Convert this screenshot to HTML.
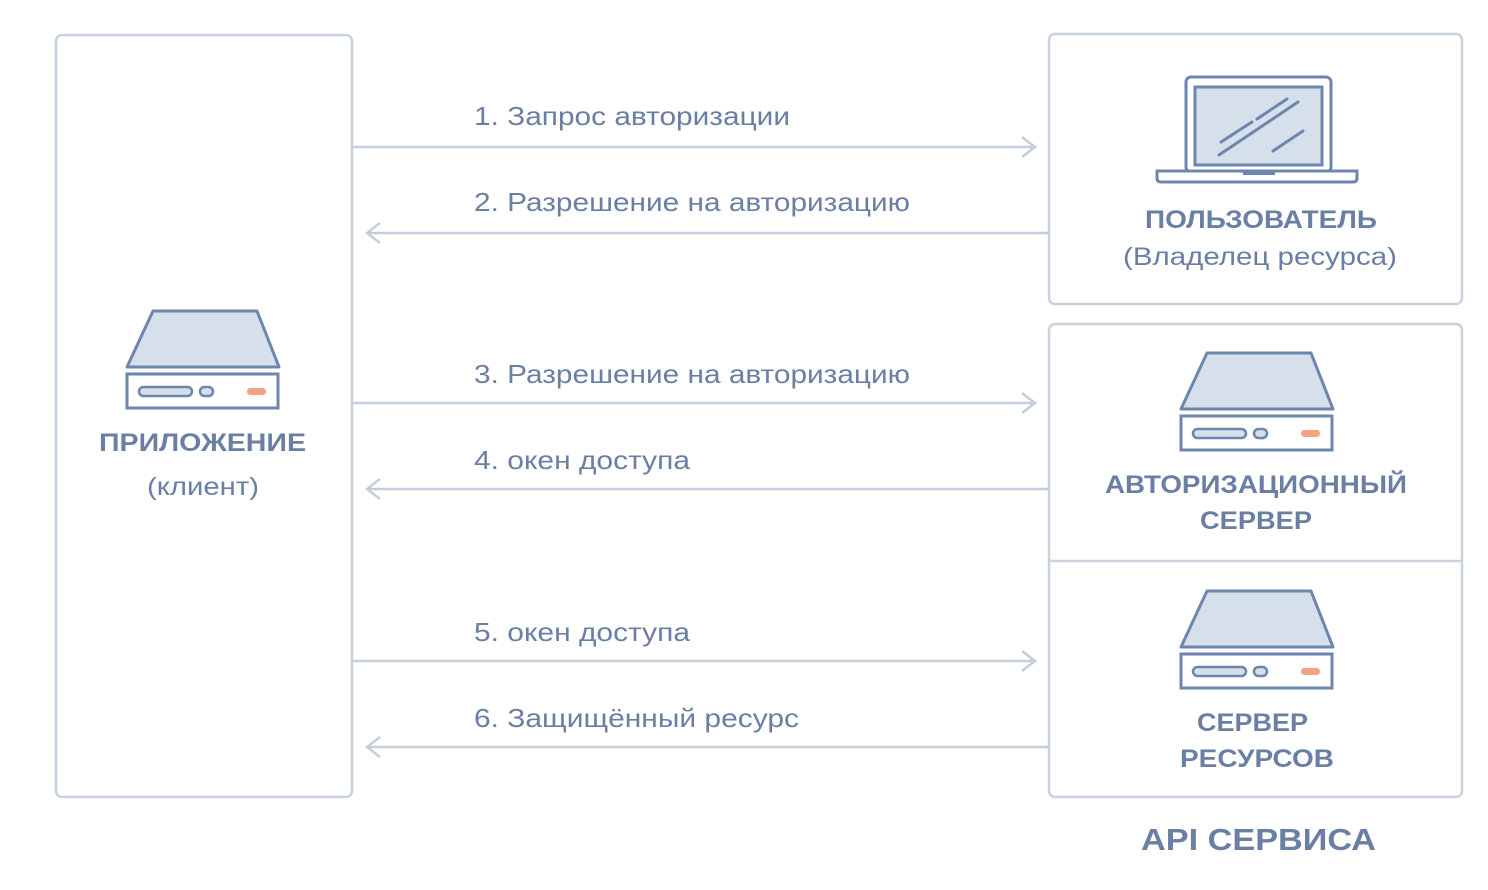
<!DOCTYPE html>
<html><head><meta charset="utf-8"><style>body{margin:0;background:#fff}</style></head>
<body>
<svg width="1488" height="885" viewBox="0 0 1488 885" xmlns="http://www.w3.org/2000/svg" font-family="Liberation Sans, sans-serif">
<defs>
<g id="srv">
<path d="M26 0 H130 L152 56 H0 Z" fill="#d6e0ea" stroke="#6d86ad" stroke-width="3" stroke-linejoin="round"/>
<rect x="0" y="63" width="151" height="34" fill="#fff" stroke="#6d86ad" stroke-width="3"/>
<rect x="12" y="76" width="53" height="9" rx="4.5" fill="#d6e0ea" stroke="#6d86ad" stroke-width="2.5"/>
<rect x="73" y="76" width="13" height="9" rx="4.5" fill="#d6e0ea" stroke="#6d86ad" stroke-width="2.5"/>
<rect x="120" y="77" width="19" height="7" rx="3.5" fill="#f5a183"/>
</g>
</defs>
<g fill="none" stroke="#c8d2de" stroke-width="2.5">
<rect x="56" y="35" width="296" height="762" rx="6"/>
<rect x="1049" y="34" width="413" height="270" rx="6"/>
<rect x="1049" y="324" width="413" height="473" rx="6"/>
<line x1="1049" y1="561" x2="1462" y2="561"/>
</g>
<g stroke="#c3cfdc" stroke-width="2.5" fill="none">
<path d="M352 147H1036M1022 137l13 10-13 10"/>
<path d="M1049 233H367M380 223l-13 10 13 10"/>
<path d="M352 403H1036M1022 393l13 10-13 10"/>
<path d="M1049 489H367M380 479l-13 10 13 10"/>
<path d="M352 661H1036M1022 651l13 10-13 10"/>
<path d="M1049 747H367M380 737l-13 10 13 10"/>
</g>
<g fill="#6b7fa5" font-size="26" lengthAdjust="spacingAndGlyphs">
<text x="474" y="125" textLength="316" lengthAdjust="spacingAndGlyphs">1. Запрос авторизации</text>
<text x="474" y="211" textLength="436" lengthAdjust="spacingAndGlyphs">2. Разрешение на авторизацию</text>
<text x="474" y="383" textLength="436" lengthAdjust="spacingAndGlyphs">3. Разрешение на авторизацию</text>
<text x="474" y="469" textLength="216" lengthAdjust="spacingAndGlyphs">4. окен доступа</text>
<text x="474" y="641" textLength="216" lengthAdjust="spacingAndGlyphs">5. окен доступа</text>
<text x="474" y="727" textLength="325" lengthAdjust="spacingAndGlyphs">6. Защищённый ресурс</text>
</g>
<use href="#srv" x="127" y="311"/>
<use href="#srv" x="1181" y="353"/>
<use href="#srv" x="1181" y="591"/>
<rect x="1186" y="77" width="145" height="95" rx="5" fill="#fff" stroke="#6d86ad" stroke-width="3"/>
<rect x="1195" y="87" width="127" height="78" fill="#d6e0ea" stroke="#6d86ad" stroke-width="3"/>
<path d="M1157 171H1357V178Q1357 182 1353 182H1161Q1157 182 1157 178Z" fill="#fff" stroke="#6d86ad" stroke-width="3"/>
<rect x="1243" y="171" width="32" height="4" fill="#6d86ad"/>
<g stroke="#6d86ad" stroke-width="3" stroke-linecap="round">
<line x1="1221" y1="142" x2="1252" y2="122"/>
<line x1="1257" y1="119" x2="1287" y2="99"/>
<line x1="1219" y1="155" x2="1298" y2="102"/>
<line x1="1273" y1="151" x2="1303" y2="131"/>
</g>
<g fill="#6b7fa5" font-size="25">
<text x="99" y="451" font-weight="bold" textLength="207" lengthAdjust="spacingAndGlyphs">ПРИЛОЖЕНИЕ</text>
<text x="147" y="495" textLength="112" lengthAdjust="spacingAndGlyphs">(клиент)</text>
<text x="1145" y="228" font-weight="bold" textLength="232" lengthAdjust="spacingAndGlyphs">ПОЛЬЗОВАТЕЛЬ</text>
<text x="1123" y="265" textLength="274" lengthAdjust="spacingAndGlyphs">(Владелец ресурса)</text>
<text x="1105" y="493" font-weight="bold" textLength="302" lengthAdjust="spacingAndGlyphs">АВТОРИЗАЦИОННЫЙ</text>
<text x="1200" y="529" font-weight="bold" textLength="112" lengthAdjust="spacingAndGlyphs">СЕРВЕР</text>
<text x="1197" y="731" font-weight="bold" textLength="111" lengthAdjust="spacingAndGlyphs">СЕРВЕР</text>
<text x="1180" y="767" font-weight="bold" textLength="154" lengthAdjust="spacingAndGlyphs">РЕСУРСОВ</text>
<text x="1141" y="850" font-weight="bold" font-size="31" textLength="235" lengthAdjust="spacingAndGlyphs">API СЕРВИСА</text>
</g>
</svg>
</body></html>
